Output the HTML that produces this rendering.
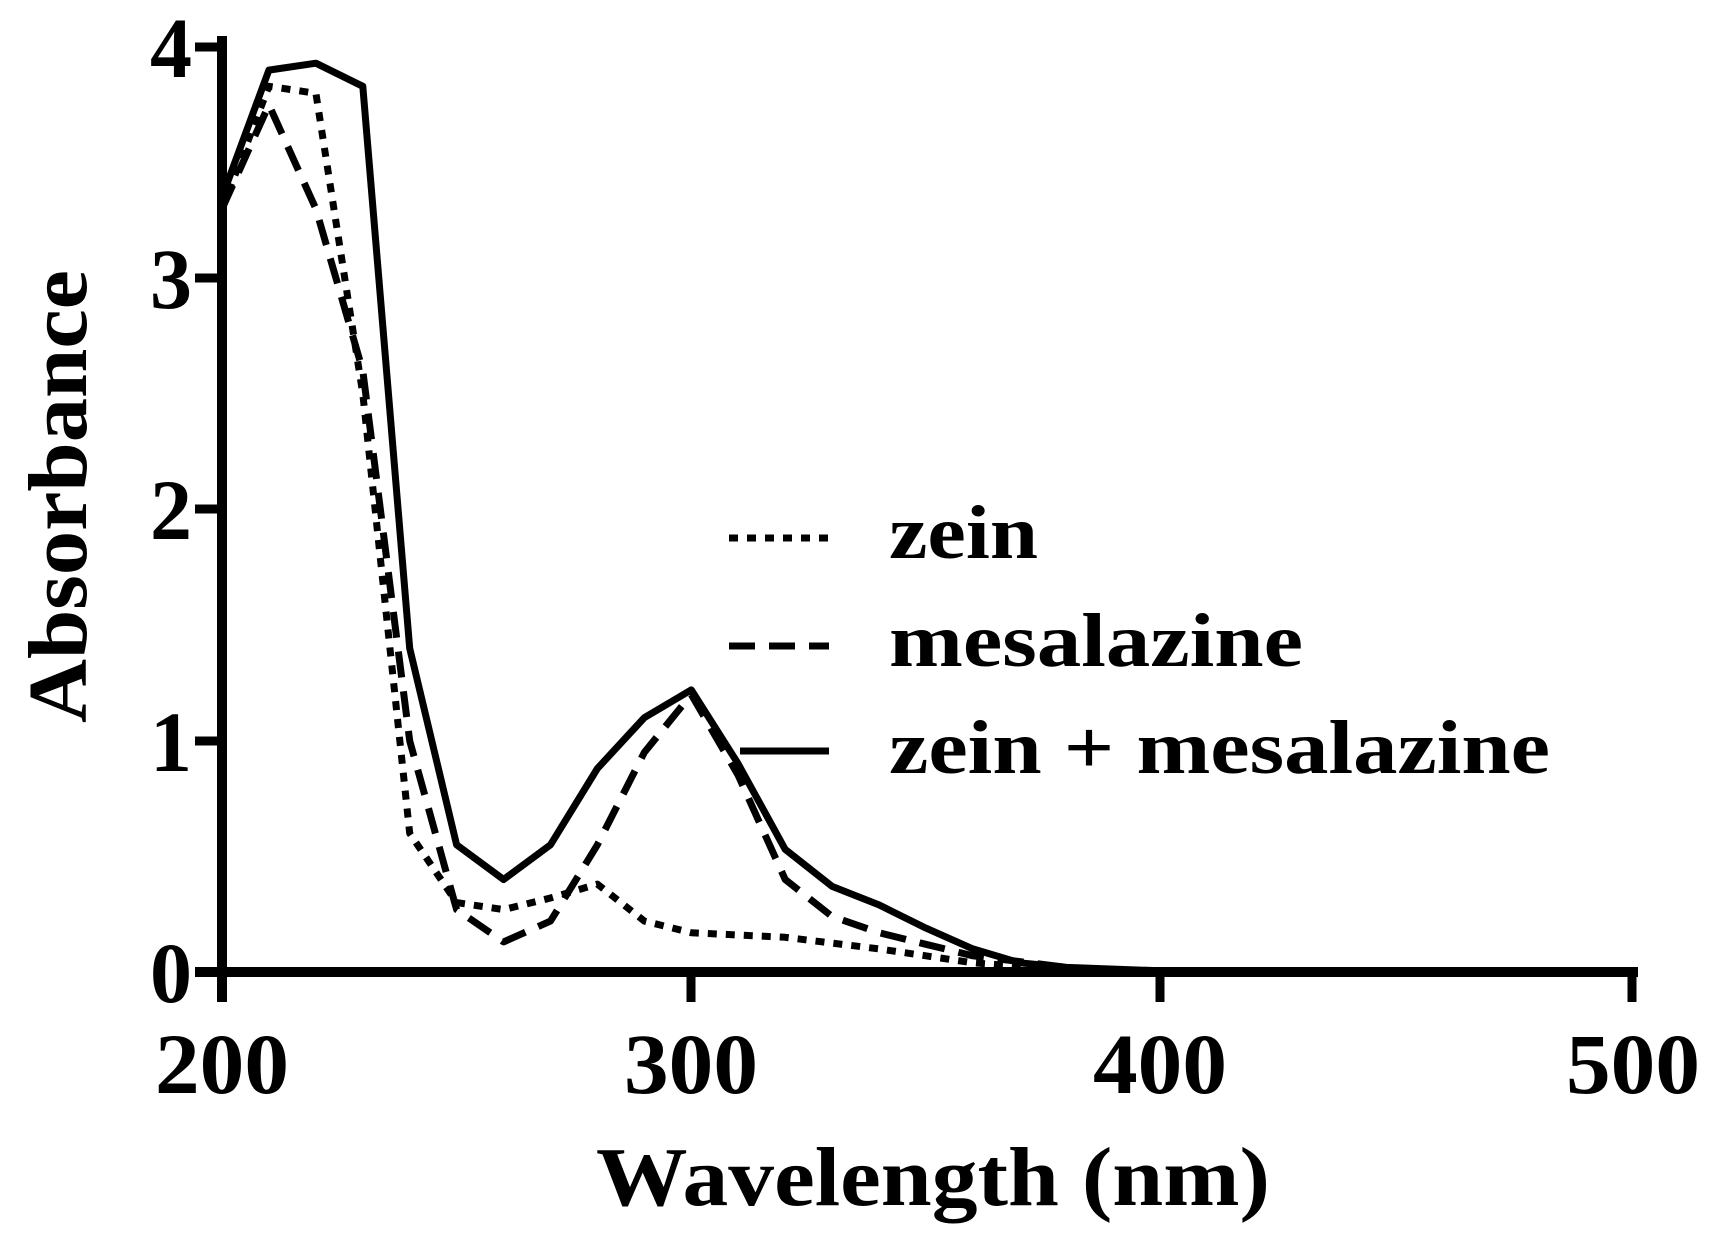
<!DOCTYPE html>
<html><head><style>body{margin:0;background:#fff}svg{display:block}</style></head><body>
<svg width="1724" height="1255" viewBox="0 0 1724 1255" xmlns="http://www.w3.org/2000/svg" font-family="Liberation Serif, serif" font-weight="bold">
<g fill="none" stroke="#000" stroke-linejoin="round">
<polyline id="s" stroke-width="7" points=""/>
<polyline id="z" stroke-width="7" stroke-dasharray="9,9" points=""/>
<polyline id="m" stroke-width="7" stroke-dasharray="26,14" points=""/>
<line x1="222" y1="36" x2="222" y2="1002" stroke-width="10"/>
<line x1="195" y1="972" x2="1638" y2="972" stroke-width="10"/>
<g stroke-width="9">
<line x1="195" y1="47" x2="222" y2="47"/><line x1="195" y1="278" x2="222" y2="278"/><line x1="195" y1="509" x2="222" y2="509"/><line x1="195" y1="741" x2="222" y2="741"/>
<line x1="691" y1="972" x2="691" y2="1002"/><line x1="1160" y1="972" x2="1160" y2="1002"/><line x1="1632" y1="972" x2="1632" y2="1002"/>
</g>
<line x1="729" y1="538" x2="829" y2="538" stroke-width="7" stroke-dasharray="9,9"/>
<line x1="729" y1="646" x2="829" y2="646" stroke-width="7" stroke-dasharray="26,14"/>
<line x1="740" y1="751" x2="829" y2="751" stroke-width="7"/>
</g>
<g font-size="86" text-anchor="end">
<text x="192" y="77" textLength="42" lengthAdjust="spacingAndGlyphs">4</text><text x="192" y="308" textLength="42" lengthAdjust="spacingAndGlyphs">3</text><text x="192" y="539" textLength="42" lengthAdjust="spacingAndGlyphs">2</text><text x="192" y="771" textLength="42" lengthAdjust="spacingAndGlyphs">1</text><text x="192" y="1002" textLength="42" lengthAdjust="spacingAndGlyphs">0</text>
</g>
<g font-size="86">
<text x="155" y="1093" textLength="134" lengthAdjust="spacingAndGlyphs">200</text><text x="624" y="1093" textLength="134" lengthAdjust="spacingAndGlyphs">300</text><text x="1093" y="1093" textLength="134" lengthAdjust="spacingAndGlyphs">400</text><text x="1566" y="1093" textLength="134" lengthAdjust="spacingAndGlyphs">500</text>
</g>
<text x="596" y="1205" font-size="84" textLength="674" lengthAdjust="spacingAndGlyphs">Wavelength  (nm)</text>
<text transform="translate(86,723) rotate(-90)" font-size="84" textLength="453" lengthAdjust="spacingAndGlyphs">Absorbance</text>
<g font-size="76">
<text x="889" y="558" textLength="149" lengthAdjust="spacingAndGlyphs">zein</text>
<text x="889" y="666" textLength="414" lengthAdjust="spacingAndGlyphs">mesalazine</text>
<text x="889" y="773" textLength="661" lengthAdjust="spacingAndGlyphs">zein + mesalazine</text>
</g>
<script>
function P(d){return d.map(p=>(222+(p[0]-200)*4.693).toFixed(1)+','+(972-p[1]*231.25).toFixed(1)).join(' ')}
document.getElementById('s').setAttribute('points',P([[200,3.35],[210,3.9],[220,3.93],[230,3.83],[240,1.4],[250,0.55],[260,0.4],[270,0.55],[280,0.88],[290,1.1],[300,1.22],[310,0.9],[320,0.53],[330,0.37],[340,0.29],[350,0.19],[360,0.1],[370,0.04],[380,0.02],[400,0.005],[460,0]]));
document.getElementById('z').setAttribute('points',P([[200,3.3],[210,3.83],[220,3.8],[230,2.5],[240,0.6],[250,0.3],[260,0.27],[270,0.32],[280,0.38],[290,0.22],[300,0.17],[320,0.15],[340,0.1],[360,0.04],[380,0.01],[400,0]]));
document.getElementById('m').setAttribute('points',P([[200,3.3],[210,3.75],[220,3.3],[230,2.6],[240,1.0],[250,0.27],[260,0.13],[270,0.22],[280,0.55],[290,0.95],[300,1.2],[310,0.85],[320,0.4],[330,0.24],[340,0.17],[350,0.12],[360,0.07],[380,0.02],[400,0]]));
</script>
</svg>
</body></html>
